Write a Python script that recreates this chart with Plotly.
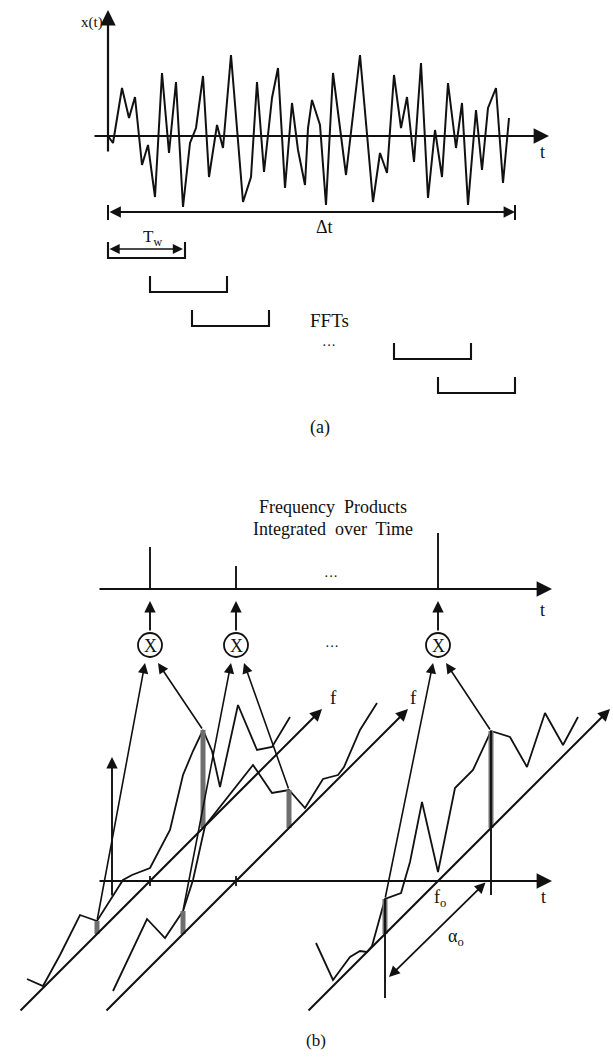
import numpy as np
import plotly.graph_objects as go

# ---------------- Part (a): sampled record x(t) ----------------
sig_t = [0, 5, 14, 21, 27, 34, 40, 47, 54, 61, 68, 75, 82, 88, 95, 101, 109, 115, 123, 135,
         143, 149, 156, 164, 170, 177, 184, 190, 197, 200, 204, 212, 218, 225, 238, 252, 265, 272, 279, 286,
         293, 299, 306, 313, 320, 327, 334, 340, 348, 354, 360, 368, 374, 380, 388, 395, 401]
sig_x = [0, -7, 48, 18, 39, -29, -9, -61, 63, -17, 54, -71, -7, 8, 60, -41, 11, -12, 81, -66,
         -41, 54, -36, 38, 68, -52, 33, -14, -49, 8, 36, 11, -69, 63, -39, 81, -66, -17, -37, 61,
         8, 39, -26, 73, -62, 6, -41, 53, -12, 33, -69, 26, -34, 28, 48, -47, 18]
record_length = 407          # Δt
window_len = 77              # T_w
window_starts = [0, 42, 84, 286, 330]

# ---------------- Part (b): spectra of segments ----------------
seg_times = [150, 236, 438]          # t positions of the three FFT segments
product_heights = [42, 23, 56]       # integrated frequency products
alpha_o = 106
spec_u = [
    [-123, -107, -90, -70, -53, -27, -18, 0, 20, 33, 43, 53, 62, 70, 88, 107, 122, 140],
    [-123, -89, -71, -53, -43, -31, 17, 36, 53, 69, 87, 102, 108, 124, 141],
    [-122, -105, -88, -78, -71, -66, -53, -37, -28, -16, 0, 17, 35, 53, 72, 89, 107, 125, 140],
]
spec_a = [
    [25, 2, 16, 36, 13, 28, 24, 13, 31, 73, 87, 98, 68, 24, 88, 24, 12, 24],
    [13, 51, 14, 23, 44, 86, 99, 52, 38, 4, 15, 4, 6, 27, 37],
    [60, 6, 12, 8, 0, 1, 35, 25, 47, 95, 9, 76, 76, 97, 72, 25, 61, 11, 24],
]

# ---------------- drawing helpers ----------------
fig = go.Figure()
W, H = 613, 1061
SERIF = "Liberation Serif"
BLACK = "#111111"


def line(xs, ys, w=1.9, color=BLACK):
    fig.add_trace(go.Scatter(x=xs, y=ys, mode="lines", line=dict(color=color, width=w),
                             hoverinfo="skip", showlegend=False))


def arrow(x0, y0, x1, y1, w=1.9, both=False, size=1.4):
    fig.add_annotation(x=x1, y=y1, ax=x0, ay=y0, xref="x", yref="y", axref="x", ayref="y",
                       text="", showarrow=True, arrowhead=2, arrowsize=size, arrowwidth=w,
                       arrowcolor=BLACK, arrowside="end+start" if both else "end",
                       startarrowhead=2, startarrowsize=size)


def label(x, y, text, size=18, anchor="center"):
    fig.add_annotation(x=x, y=y, xref="x", yref="y", text=text, showarrow=False,
                       font=dict(family=SERIF, size=size, color=BLACK),
                       xanchor=anchor, yanchor="middle")


# ---------------- Part (a) ----------------
ox, oy = 108, 136
arrow(93, oy, 549, oy, w=2.2)                 # t axis
arrow(ox, oy + 17, ox, 10, w=2.2)              # x(t) axis
label(92, 22, "x(t)", 15)
label(542, 152, "t", 18)
line([ox + t for t in sig_t], [oy - v for v in sig_x], w=2.0)

# Δt dimension
ydt = 212
arrow(ox, ydt, ox + record_length, ydt, w=1.9, both=True, size=1.2)
line([ox, ox], [ydt - 7, ydt + 8], w=2)
line([ox + record_length] * 2, [ydt - 7, ydt + 8], w=2)
label(ox + record_length / 2 + 13, 227, "Δt", 18)

# FFT windows
row_bottoms = [258, 292, 326, 359, 393]
for s, yb in zip(window_starts, row_bottoms):
    x0, x1 = ox + s, ox + s + window_len
    line([x0, x0, x1, x1], [yb - 16, yb, yb, yb - 16], w=2.1)
arrow(ox, 249, ox + window_len - 2, 249, w=1.7, both=True, size=1.2)
label(152, 238, "T<sub>w</sub>", 17)
label(329, 320, "FFTs", 19)
label(329, 345, "···", 14)
label(320, 427, "(a)", 18)

# ---------------- Part (b) ----------------
label(333, 507, "Frequency  Products", 18)
label(333, 529, "Integrated  over  Time", 18)

ytop = 589
arrow(98, ytop, 552, ytop, w=2.2)
label(542, 610, "t", 18)
for c, h in zip(seg_times, product_heights):
    line([c, c], [ytop, ytop - h], w=1.9)
label(331, 576, "···", 14)

# multipliers
cy, r = 645, 12
for c in seg_times:
    fig.add_shape(type="circle", x0=c - r, x1=c + r, y0=cy - r, y1=cy + r,
                  line=dict(color=BLACK, width=1.8))
    label(c, cy + 1, "X", 18)
    arrow(c, cy - r - 1, c, 601, w=1.9, size=1.2)
label(332, 646, "···", 14)

# frequency axes and spectra (oblique projection)
yb = 881
arrow(98, yb, 552, yb, w=2.2)                  # lower t axis
label(543, 897, "t", 18)
for k, c in enumerate(seg_times):
    arrow(c - 131, yb + 131, c + 172, yb - 172, w=2.0, size=1.2)
    u = np.array(spec_u[k]); a = np.array(spec_a[k])
    line(list(c + u), list(yb - u - a), w=1.8)
    # shaded bars at f_o ± α_o/2
    for sgn in (-1, 1):
        uu = sgn * alpha_o / 2
        aa = float(np.interp(uu, u, a))
        line([c + uu, c + uu], [yb - uu, yb - uu - aa], w=5, color="#6e6e6e")
    if k < 2:
        line([c, c], [yb - 5, yb + 5], w=1.8)
for k, c in enumerate(seg_times):
    u = np.array(spec_u[k]); a = np.array(spec_a[k])
    lo, hi = -alpha_o / 2, alpha_o / 2
    alo = float(np.interp(lo, u, a)); ahi = float(np.interp(hi, u, a))
    arrow(c + lo, yb - lo - alo, c - 5, cy + 18, w=1.6, size=1.3)
    arrow(c + hi, yb - hi - ahi, c + 8, cy + 18, w=1.6, size=1.3)

# f labels
label(seg_times[0] + 183, 697, "f", 19)
label(seg_times[1] + 177, 697, "f", 19)
label(seg_times[2] + 179, 700, "f", 19)

# amplitude axis of first spectrum
arrow(112, 897, 112, 757, w=1.9, size=1.2)

# f_o / α_o construction on the last spectrum
c3 = seg_times[2]
u3 = np.array(spec_u[2]); a3 = np.array(spec_a[2])
lo, hi = -alpha_o / 2, alpha_o / 2
line([c3 + lo, c3 + lo], [yb - lo - float(np.interp(lo, u3, a3)), 998], w=1.9)
line([c3 + hi, c3 + hi], [yb - hi - float(np.interp(hi, u3, a3)), 895], w=1.9)
arrow(c3 + hi - 4, yb, c3 + lo + 4, yb + alpha_o - 10, w=1.8, both=True, size=1.2)
label(c3 + 2, 898, "f<sub>o</sub>", 18)
label(c3 + 18, 937, "α<sub>o</sub>", 18)
label(316, 1040, "(b)", 17)

fig.update_layout(
    width=W, height=H, margin=dict(l=0, r=0, t=0, b=0),
    paper_bgcolor="white", plot_bgcolor="white", showlegend=False,
    xaxis=dict(range=[0, W], visible=False, fixedrange=True),
    yaxis=dict(range=[H, 0], visible=False, fixedrange=True),
)
fig.write_html("out.html")
